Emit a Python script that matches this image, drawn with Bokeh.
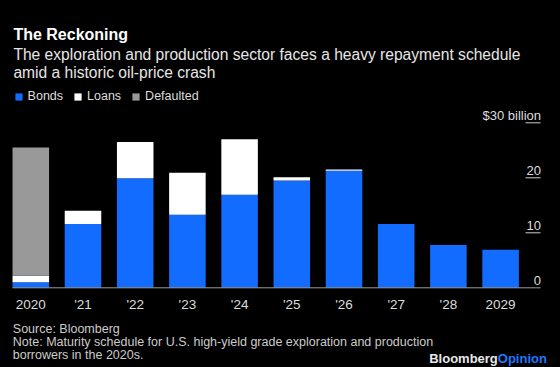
from bokeh.plotting import figure
from bokeh.models import Range1d, Legend, LegendItem, Label, ColumnDataSource
from bokeh.core.properties import value
from bokeh.embed import file_html
from bokeh.resources import INLINE

categories = ["2020", "'21", "'22", "'23", "'24", "'25", "'26", "'27", "'28", "2029"]
bonds = [1.0, 11.6, 19.9, 13.3, 16.9, 19.5, 21.3, 11.6, 7.8, 6.9]
loans = [1.2, 2.4, 6.6, 7.6, 10.1, 0.6, 0.2, 0.0, 0.0, 0.0]
defaulted = [23.3, 0, 0, 0, 0, 0, 0, 0, 0, 0]
series_names = ["Bonds", "Loans", "Defaulted"]
series_colors = ["#126cff", "#ffffff", "#999999"]
y_ticks = [0, 10, 20, 30]
y_tick_labels = ["0", "10", "20", "$30 billion"]

title = "The Reckoning"
subtitle = ["The exploration and production sector faces a heavy repayment schedule",
            "amid a historic oil-price crash"]
footer = ["Source: Bloomberg",
          "Note: Maturity schedule for U.S. high-yield grade exploration and production",
          "borrowers in the 2020s."]

FONT = "Liberation Sans"
W, H = 560, 367
PX_X = 52.2      # pixels per category step
PX_Y = 5.5       # pixels per $1bn
ZERO_Y = 287.3   # pixel row of zero line (from top)
FIRST_X = 30.3   # pixel column of the first bar centre
x_start = -FIRST_X / PX_X
x_end = x_start + W / PX_X
y_start = -(H - ZERO_Y) / PX_Y
y_end = ZERO_Y / PX_Y


def dx(px):
    return x_start + px / PX_X


xpos = list(range(len(categories)))
src = ColumnDataSource(dict(x=xpos, Bonds=bonds, Loans=loans, Defaulted=defaulted))

p = figure(width=W, height=H, output_backend="svg", toolbar_location=None,
           x_range=Range1d(x_start, x_end), y_range=Range1d(y_start, y_end),
           x_axis_location=None, y_axis_location=None,
           min_border=0, background_fill_color="black", border_fill_color="black",
           outline_line_color=None)
p.grid.visible = False

rs = p.vbar_stack(series_names, x="x", width=0.70, color=series_colors, line_color=None, source=src)

# zero line and right-hand tick marks
p.segment(x0=[dx(12)], x1=[dx(540)], y0=[y_ticks[0]], y1=[y_ticks[0]], line_color="#9a9a9a", line_width=1)
p.segment(x0=[dx(525)] * (len(y_ticks) - 1), x1=[dx(540)] * (len(y_ticks) - 1),
          y0=y_ticks[1:], y1=y_ticks[1:], line_color="#cccccc", line_width=1)

# tick labels
p.text(x=[dx(540.5)] * len(y_ticks), y=y_ticks, text=y_tick_labels, text_align="right",
       text_baseline="alphabetic", y_offset=-7.5, text_color="#dddddd",
       text_font=value(FONT), text_font_size="13px")
p.text(x=xpos, y=[0] * len(xpos), text=categories, text_align="center",
       text_baseline="alphabetic", y_offset=16.7, text_color="#dddddd",
       text_font=value(FONT), text_font_size="13.5px")

legend = Legend(items=[LegendItem(label=n, renderers=[r]) for n, r in zip(series_names, rs)],
                orientation="horizontal", location=(13.6, H - 103.3), glyph_width=9, glyph_height=9,
                label_standoff=5, spacing=10, padding=0, margin=0, label_height=9,
                background_fill_alpha=0, border_line_color=None,
                label_text_color="#dddddd", label_text_font=FONT, label_text_font_size="12.5px")
p.add_layout(legend, "center")

# titles
p.add_layout(Label(x=12.9, y=H - 34.1, x_units="screen", y_units="screen", text=title,
                   text_font=FONT, text_font_style="bold", text_font_size="16px",
                   text_color="#ffffff", text_baseline="alphabetic"))
for i, line in enumerate(subtitle):
    p.add_layout(Label(x=12.9, y=H - 53.8 - 18 * i, x_units="screen", y_units="screen", text=line,
                       text_font=FONT, text_font_size="15.6px", text_color="#e6e6e6",
                       text_baseline="alphabetic"))
for i, line in enumerate(footer):
    p.add_layout(Label(x=12.3, y=H - 328.3 - 13 * i, x_units="screen", y_units="screen", text=line,
                       text_font=FONT, text_font_size="12.5px", text_color="#cccccc",
                       text_baseline="alphabetic"))
p.add_layout(Label(x=497.3, y=H - 358.3, x_units="screen", y_units="screen", text="Bloomberg",
                   text_font=FONT, text_font_style="bold", text_font_size="13px",
                   text_color="#e8e8e8", text_align="right", text_baseline="alphabetic"))
p.add_layout(Label(x=497.3, y=H - 358.3, x_units="screen", y_units="screen", text="Opinion",
                   text_font=FONT, text_font_style="bold", text_font_size="13px",
                   text_color="#1f78ff", text_align="left", text_baseline="alphabetic"))

html = file_html(p, INLINE)
html = html.replace("</head>", "<style>html,body{background:#000;}</style></head>", 1)
open("out.html", "w").write(html)
